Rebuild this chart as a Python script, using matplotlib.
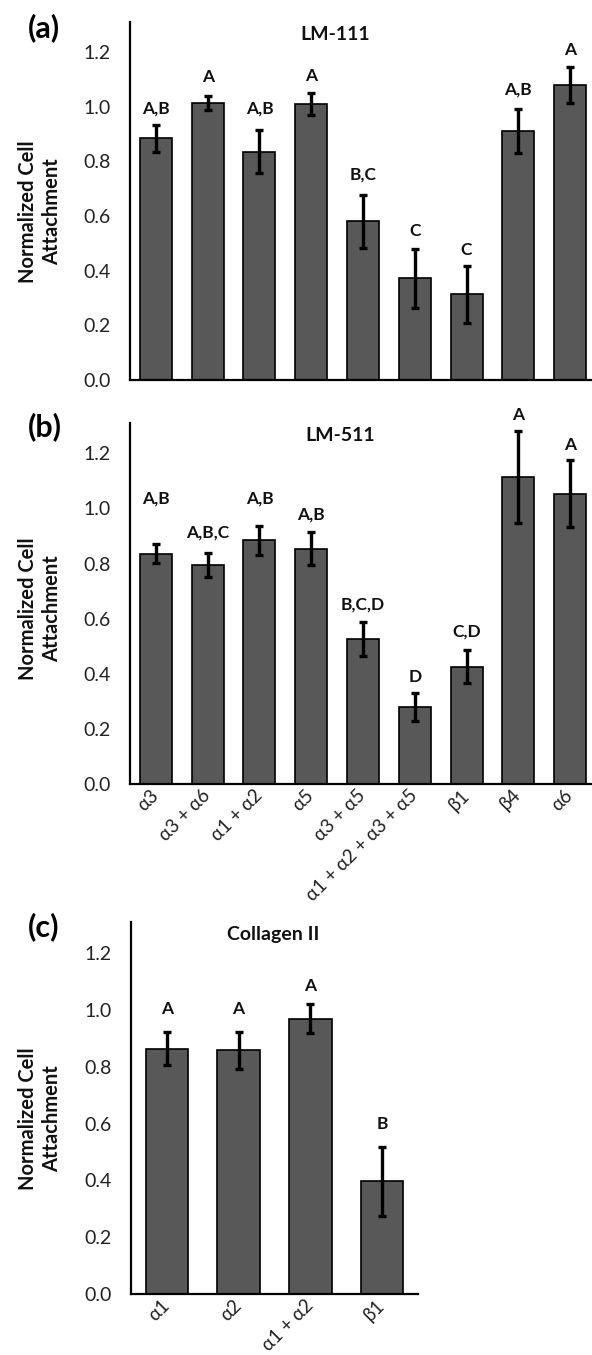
import matplotlib
matplotlib.use('Agg')
from matplotlib import pyplot as plt

plt.rcParams['font.family'] = ['Lato', 'Noto Sans', 'DejaVu Sans']

# integrin blocking groups (panels a and b share them)
lm_groups = ['α3', 'α3 + α6', 'α1 + α2', 'α5', 'α3 + α5',
             'α1 + α2 + α3 + α5', 'β1', 'β4', 'α6']

# (a) LM-111
lm111_means = [0.884, 1.013, 0.836, 1.009, 0.580, 0.373, 0.313, 0.911, 1.079]
lm111_err = [0.048, 0.026, 0.080, 0.040, 0.096, 0.108, 0.103, 0.082, 0.066]
lm111_letters = ['A,B', 'A', 'A,B', 'A', 'B,C', 'C', 'C', 'A,B', 'A']
lm111_letter_y = [0.994, 1.107, 0.994, 1.111, 0.752, 0.544, 0.477, 1.064, 1.207]

# (b) LM-511
lm511_means = [0.836, 0.795, 0.884, 0.854, 0.526, 0.279, 0.426, 1.114, 1.053]
lm511_err = [0.035, 0.045, 0.054, 0.060, 0.061, 0.050, 0.061, 0.167, 0.122]
lm511_letters = ['A,B', 'A,B,C', 'A,B', 'A,B', 'B,C,D', 'D', 'C,D', 'A', 'A']
lm511_letter_y = [1.037, 0.912, 1.037, 0.978, 0.653, 0.390, 0.554, 1.340, 1.231]

# (c) Collagen II
col2_groups = ['α1', 'α2', 'α1 + α2', 'β1']
col2_means = [0.864, 0.858, 0.969, 0.397]
col2_err = [0.058, 0.066, 0.051, 0.122]
col2_letters = ['A', 'A', 'A', 'B']
col2_letter_y = [1.002, 1.002, 1.083, 0.599]

yticks = [0.0, 0.2, 0.4, 0.6, 0.8, 1.0, 1.2]

W, H = 592, 1355
fig = plt.figure(figsize=(W / 100, H / 100), dpi=100)


def px_axes(left, top, right, bottom):
  return fig.add_axes([left / W, 1 - bottom / H, (right - left) / W, (bottom - top) / H])


def draw_panel(ax, groups, means, err, letters, letter_y, title, title_x, width, show_xlabels):
  x = list(range(len(groups)))
  ax.bar(x, means, width=width, color='#585858', edgecolor='black', linewidth=1.2, zorder=2)
  ax.errorbar(x, means, yerr=err, fmt='none', ecolor='black', elinewidth=2.4,
              capsize=3.2, capthick=2.4, zorder=3)
  for xi, lab, ly in zip(x, letters, letter_y):
    ax.text(xi, ly, lab, ha='center', va='center', fontsize=12.5, fontweight='bold',
            color='#111111', clip_on=False)
  ax.text(title_x, 1.265, title, ha='center', va='center', fontsize=14, fontweight='bold',
          color='#111111')
  ax.set_xlim(-0.5, len(groups) - 0.5)
  ax.set_ylim(0, 1.31)
  ax.set_yticks(yticks)
  ax.set_yticklabels(['%.1f' % v for v in yticks])
  ax.tick_params(axis='both', length=0, labelsize=14, colors='#222222')
  ax.tick_params(axis='y', pad=14)
  ax.set_xticks(x)
  if show_xlabels:
    ax.set_xticklabels(groups, rotation=45, ha='right', va='center', rotation_mode='anchor')
    ax.tick_params(axis='x', pad=6, labelsize=13.5)
  else:
    ax.set_xticklabels([])
  for s in ['top', 'right']:
    ax.spines[s].set_visible(False)
  for s in ['left', 'bottom']:
    ax.spines[s].set_linewidth(1.6)
    ax.spines[s].set_color('black')


ax_a = px_axes(130, 22, 596, 380)
draw_panel(ax_a, lm_groups, lm111_means, lm111_err, lm111_letters, lm111_letter_y,
           'LM-111', 3.46, 0.62, False)

ax_b = px_axes(130, 423, 596, 784)
draw_panel(ax_b, lm_groups, lm511_means, lm511_err, lm511_letters, lm511_letter_y,
           'LM-511', 3.56, 0.62, True)

ax_c = px_axes(131, 922, 418, 1294)
draw_panel(ax_c, col2_groups, col2_means, col2_err, col2_letters, col2_letter_y,
           'Collagen II', 1.48, 0.59, True)

# y axis titles
for py in [212, 609, 1119]:
  fig.text(40 / W, 1 - py / H, 'Normalized Cell\nAttachment', rotation=90, ha='center',
           va='center', multialignment='center', fontsize=14.5, fontweight='bold',
           color='#111111', linespacing=1.25)

# panel letters
for lab, (px, py) in zip(['(a)', '(b)', '(c)'], [(44, 28), (45, 427), (44, 927)]):
  fig.text(px / W, 1 - py / H, lab, ha='center', va='center', fontsize=22, fontweight='bold')

fig.savefig('out.png', dpi=100)
